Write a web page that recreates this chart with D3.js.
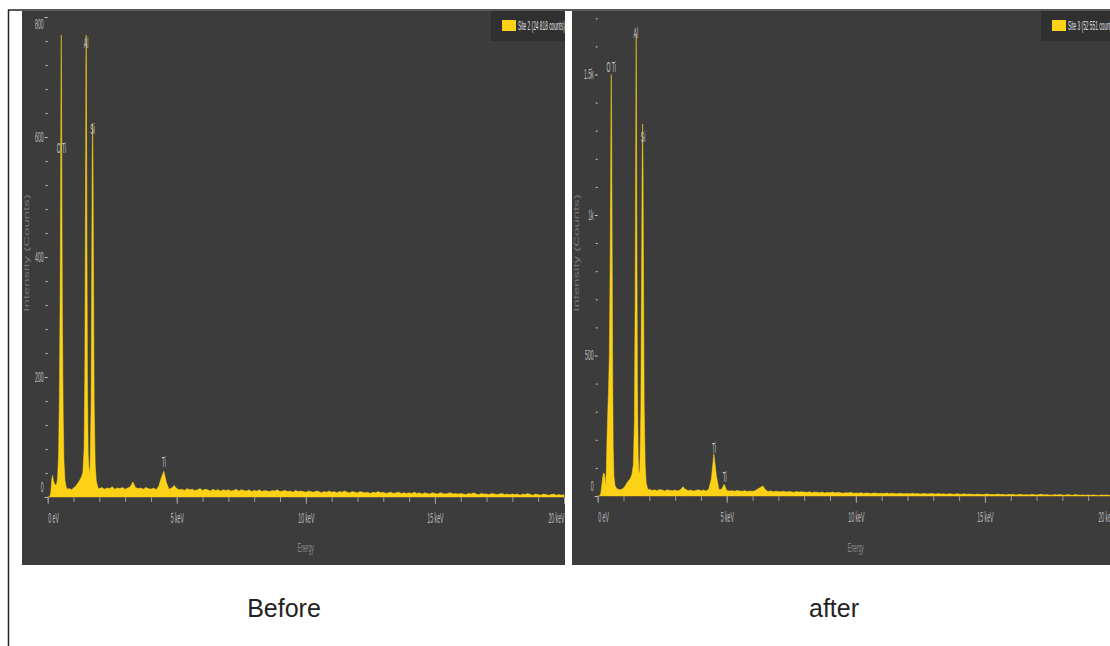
<!DOCTYPE html>
<html>
<head>
<meta charset="utf-8">
<script src="https://cdn.jsdelivr.net/npm/d3@7"></script>
<style>
  html, body { margin: 0; padding: 0; background: #fff; }
  svg { display: block; font-family: "Liberation Sans", Arial, sans-serif; }
</style>
</head>
<body>
<svg id="fig" width="1110" height="646"></svg>
<script>
// ---- values ----

// energy axis (keV)
const energyTicks = d3.range(0, 21);
const energyMajor = [0, 5, 10, 15, 20];
const energyLabels = ["0 eV", "5 keV", "10 keV", "15 keV", "20 keV"];

// Site 2 ("Before"): low energy part, [keV, counts]
const site2Low = [
  [0, 0], [0.08, 0], [0.12, 8], [0.16, 30], [0.19, 36], [0.22, 28], [0.26, 22],
  [0.3, 20], [0.34, 21], [0.38, 30], [0.42, 70], [0.45, 160], [0.48, 330],
  [0.5, 520], [0.515, 700], [0.525, 770], [0.535, 690], [0.55, 500], [0.57, 300],
  [0.6, 140], [0.63, 60], [0.67, 28], [0.72, 16], [0.78, 13], [0.85, 14],
  [0.92, 12], [1.0, 15], [1.06, 17], [1.12, 20], [1.18, 24], [1.24, 28],
  [1.3, 33], [1.36, 40], [1.41, 80], [1.44, 220], [1.465, 520], [1.48, 720],
  [1.49, 770], [1.5, 720], [1.515, 500], [1.54, 200], [1.57, 70], [1.61, 40],
  [1.64, 50], [1.68, 150], [1.705, 380], [1.725, 560], [1.74, 623], [1.755, 570],
  [1.775, 380], [1.8, 160], [1.84, 55], [1.88, 28], [1.93, 18], [1.97, 14]
];
// Site 2: counts every 0.1 keV from 2.0 to 20.0 keV
const site2Bg = [
  14, 16, 13, 15, 14, 17, 13, 15, 14, 16,
  13, 15, 17, 25, 16, 14, 15, 13, 16, 14,
  13, 15, 12, 18, 32, 43, 24, 13, 15, 19,
  14, 12, 13, 11, 14, 12, 13, 11, 12, 14,
  11, 13, 12, 10, 13, 11, 12, 10, 12, 11,
  12, 10, 11, 13, 10, 12, 11, 10, 12, 9,
  11, 10, 12, 9, 11, 10, 9, 11, 10, 12,
  9, 10, 11, 9, 10, 8, 11, 9, 10, 9,
  8, 10, 9, 8, 10, 9, 7, 9, 8, 10,
  8, 9, 7, 9, 8, 10, 8, 7, 9, 8,
  7, 9, 8, 7, 8, 6, 8, 7, 9, 7,
  8, 6, 7, 8, 6, 7, 8, 6, 7, 6,
  7, 6, 8, 6, 7, 5, 7, 6, 5, 7,
  6, 5, 7, 6, 5, 6, 7, 5, 6, 5,
  6, 5, 4, 6, 5, 7, 5, 4, 6, 5,
  5, 4, 6, 5, 4, 5, 6, 4, 5, 4,
  5, 4, 5, 3, 5, 4, 6, 4, 3, 5,
  4, 3, 5, 4, 3, 4, 5, 3, 4, 3,
  4
];
// peak labels: [text, keV, counts]
const site2Labels = [["O Ti", 0.53, 582], ["Al", 1.49, 757], ["Si", 1.74, 614], ["Ti", 4.5, 58]];

// Site 3 ("after")
const site3Low = [
  [0, 0], [0.08, 0], [0.12, 10], [0.16, 40], [0.2, 70], [0.23, 82], [0.26, 78],
  [0.28, 60], [0.3, 35], [0.33, 80], [0.36, 200], [0.39, 300], [0.42, 380],
  [0.45, 500], [0.48, 800], [0.5, 1100], [0.515, 1400], [0.525, 1500], [0.54, 1300],
  [0.56, 900], [0.58, 450], [0.6, 180], [0.63, 70], [0.67, 38], [0.72, 28],
  [0.8, 24], [0.88, 22], [0.95, 25], [1.02, 30], [1.08, 38], [1.14, 48],
  [1.2, 55], [1.26, 62], [1.32, 75], [1.38, 110], [1.42, 260], [1.45, 700],
  [1.47, 1200], [1.485, 1560], [1.49, 1640], [1.5, 1500], [1.515, 1000],
  [1.54, 400], [1.57, 140], [1.6, 80], [1.63, 90], [1.67, 300], [1.7, 800],
  [1.72, 1150], [1.74, 1324], [1.755, 1200], [1.775, 800], [1.8, 330],
  [1.84, 110], [1.88, 45], [1.93, 28], [1.97, 22]
];
const site3Bg = [
  24, 20, 22, 19, 23, 21, 18, 22, 20, 19,
  21, 18, 22, 33, 24, 19, 21, 18, 20, 22,
  19, 21, 18, 24, 60, 150, 70, 22, 24, 42,
  20, 18, 19, 17, 20, 18, 17, 19, 16, 18,
  17, 19, 25, 30, 36, 22, 16, 18, 15, 17,
  16, 15, 17, 14, 16, 15, 13, 16, 14, 15,
  14, 13, 15, 12, 14, 13, 12, 14, 11, 13,
  12, 14, 11, 13, 12, 10, 12, 11, 13, 10,
  11, 10, 12, 9, 11, 10, 9, 11, 10, 9,
  10, 9, 11, 8, 10, 9, 8, 10, 9, 8,
  9, 8, 10, 8, 9, 7, 9, 8, 7, 9,
  8, 7, 9, 7, 8, 6, 8, 7, 6, 8,
  7, 6, 8, 6, 7, 6, 5, 7, 6, 5,
  6, 7, 5, 6, 5, 7, 5, 6, 4, 6,
  5, 6, 4, 5, 6, 4, 5, 4, 6, 5,
  4, 5, 6, 4, 5, 4, 3, 5, 4, 5,
  4, 3, 5, 4, 3, 5, 4, 3, 4, 3,
  4, 3, 4, 3, 2, 4, 3, 4, 3, 2,
  3
];
const site3Labels = [["O Ti", 0.52, 1525], ["Al", 1.48, 1649], ["Si", 1.76, 1276], ["Ti", 4.51, 171], ["Ti", 4.92, 68]];

const site2Ticks = [0, 200, 400, 600, 800];
const site2Minor = d3.range(40, 801, 40).filter(v => v % 200);
const site3Ticks = [0, 500, 1000, 1500];
const site3Minor = d3.range(100, 1701, 100).filter(v => v % 500);

const legendNames = ["Site 2 (24 818 counts)", "Site 3 (52 551 counts)"];
const captions = ["Before", "after"];

// ---- drawing ----
const svg = d3.select("#fig");
const YELLOW = "#fcd116";
const SQ = 0.37;   // the figure text is squashed sideways

const toSeries = (low, bg) => low.concat(bg.map((c, i) => [2 + i * 0.1, c]));

function squash(sel, k) {
  sel.attr("transform", `scale(${k},1)`);
}

function drawPanel(dx, series, labels, yMax, yRange, ticks, minor, legend, caption, idx) {
  const g = svg.append("g");

  g.append("rect").attr("x", 22 + dx).attr("y", 11).attr("width", 543).attr("height", 554)
    .attr("fill", "#3c3c3c");

  g.append("clipPath").attr("id", "clip" + idx)
    .append("rect").attr("x", 22 + dx).attr("y", 11).attr("width", 543).attr("height", 554);

  const x = d3.scaleLinear().domain([0, 20]).range([47.7 + dx, 564 + dx]);
  const y = d3.scaleLinear().domain([0, yMax]).range(yRange);

  // spectrum
  const area = d3.area().x(d => x(d[0])).y0(y(0)).y1(d => y(d[1]));
  g.append("path").datum(series)
    .attr("clip-path", `url(#clip${idx})`)
    .attr("d", area)
    .attr("fill", YELLOW)
    .attr("stroke", YELLOW).attr("stroke-width", 0.5).attr("stroke-linejoin", "round");

  // x axis: minor and major ticks
  const xMin = g.append("g").attr("transform", `translate(0,${y(0)})`)
    .call(d3.axisBottom(x).tickValues(energyTicks).tickSize(5).tickFormat(""));
  xMin.select(".domain").remove();
  xMin.selectAll("line").attr("stroke", "#9c9c9c");

  const xMaj = g.append("g").attr("transform", `translate(0,${y(0)})`)
    .call(d3.axisBottom(x).tickValues(energyMajor).tickSize(7).tickFormat((d, i) => energyLabels[i]));
  xMaj.select(".domain").remove();
  xMaj.selectAll("line").attr("stroke", "#9c9c9c");
  xMaj.selectAll("text")
    .attr("y", 26).attr("dy", null)
    .attr("font-size", 14).attr("font-family", "Liberation Sans, Arial, sans-serif")
    .attr("fill", "#bdbdbd")
    .attr("text-anchor", (d, i) => i === 0 ? "start" : (i === energyMajor.length - 1 ? "end" : "middle"))
    .call(squash, SQ);

  // y axis
  const yMin = g.append("g").attr("transform", `translate(${x(0)},0)`)
    .call(d3.axisLeft(y).tickValues(minor).tickSize(2).tickFormat(""));
  yMin.select(".domain").remove();
  yMin.selectAll("line").attr("stroke", "#c8c8c8");

  const fmt = d => d >= 1000 ? (d / 1000) + "k" : String(d);
  const yMaj = g.append("g").attr("transform", `translate(${x(0)},0)`)
    .call(d3.axisLeft(y).tickValues(ticks).tickSize(3).tickPadding(1).tickFormat(fmt));
  yMaj.select(".domain").remove();
  yMaj.selectAll("line").attr("stroke", "#c8c8c8");
  yMaj.selectAll("text")
    .attr("x", -4 / SQ)
    .attr("font-size", 14).attr("font-family", "Liberation Sans, Arial, sans-serif")
    .attr("fill", "#bdbdbd")
    .attr("y", d => d === 0 ? -10 : (y(d) < 22 ? 7 : 0))
    .call(squash, SQ);

  // axis titles
  g.append("text")
    .attr("transform", `translate(${(x(0) + x(20)) / 2},552) scale(0.39,1)`)
    .attr("text-anchor", "middle").attr("font-size", 13).attr("fill", "#8a8a8a")
    .text("Energy");
  g.append("text")
    .attr("transform", `translate(${27 + dx},253) rotate(-90) scale(1,0.45)`)
    .attr("text-anchor", "middle").attr("font-size", 15).attr("fill", "#777")
    .attr("dy", "0.35em")
    .text("Intensity (Counts)");

  // peak labels
  g.selectAll("text.peak").data(labels).join("text")
    .attr("class", "peak")
    .attr("transform", d => `translate(${x(d[1])},${y(d[2]) + 5}) scale(${SQ},1)`)
    .attr("text-anchor", "middle").attr("font-size", 14).attr("fill", "#c4c4c4")
    .text(d => d[0]);

  // legend
  const lg = g.append("g").attr("clip-path", `url(#clip${idx})`);
  lg.append("rect").attr("x", 491 + dx).attr("y", 11).attr("width", 74).attr("height", 30)
    .attr("fill", "#303030");
  lg.append("rect").attr("x", 502 + dx).attr("y", 20).attr("width", 14).attr("height", 11)
    .attr("fill", YELLOW);
  lg.append("text")
    .attr("transform", `translate(${518 + dx},30) scale(0.4,1)`)
    .attr("font-size", 12).attr("fill", "#e2e2e2")
    .text(legend);

  // caption under the panel
  svg.append("text")
    .attr("x", 284 + dx).attr("y", 617)
    .attr("text-anchor", "middle").attr("font-size", 25).attr("fill", "#222")
    .text(caption);
}

// page frame
svg.append("line").attr("x1", 8).attr("x2", 1110).attr("y1", 10).attr("y2", 10)
  .attr("stroke", "#222").attr("stroke-width", 1.5);
svg.append("line").attr("x1", 8.5).attr("x2", 8.5).attr("y1", 10).attr("y2", 646)
  .attr("stroke", "#222").attr("stroke-width", 1.5);

drawPanel(0, toSeries(site2Low, site2Bg), site2Labels, 800, [497, 17],
  site2Ticks, site2Minor, legendNames[0], captions[0], 0);
drawPanel(550, toSeries(site3Low, site3Bg), site3Labels, 1500, [496, 74.5],
  site3Ticks, site3Minor, legendNames[1], captions[1], 1);
</script>
</body>
</html>
